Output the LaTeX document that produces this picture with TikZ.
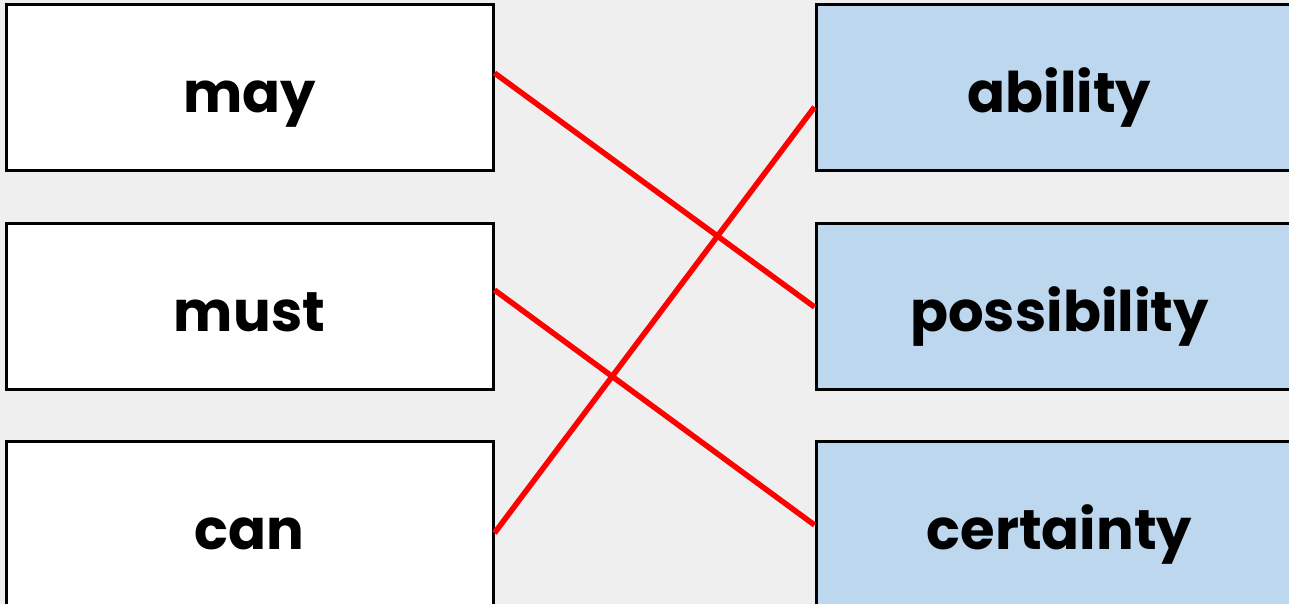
\documentclass[tikz,border=0pt]{standalone}
\usepackage{fontspec}
\setmainfont{Poppins}
\definecolor{bgcol}{HTML}{EFEFEF}
\definecolor{bluefill}{HTML}{BDD7EE}
\begin{document}
\begin{tikzpicture}[x=1pt,y=-1pt,
  card/.style={draw=black, line width=3pt, minimum width=487pt, minimum height=166pt,
    inner sep=0pt, text height=50pt, text depth=0pt,
    font=\bfseries\fontsize{56}{64}\selectfont},
  leftcard/.style={card, fill=white},
  rightcard/.style={card, fill=bluefill},
  link/.style={red, line width=5.5pt}]
\useasboundingbox (0,0) rectangle (1289,604);
\clip (0,0) rectangle (1289,604);
\fill[bgcol] (0,0) rectangle (1289,604);
\node[leftcard] (may) at (249.5,88) {may};
\node[leftcard] (must) at (249.5,306) {must};
\node[leftcard] (can) at (249.5,524) {can};
\node[rightcard] (ability) at (1059.5,88) {ability};
\node[rightcard] (poss) at (1059.5,306) {possibility};
\node[rightcard] (cert) at (1059.5,524) {certainty};
\draw[link] ([yshift=15pt]may.east) -- ([yshift=-1pt]poss.west);
\draw[link] ([yshift=16pt]must.east) -- ([yshift=-1pt]cert.west);
\draw[link] ([yshift=-9pt]can.east) -- ([yshift=-19pt]ability.west);
\end{tikzpicture}
\end{document}
